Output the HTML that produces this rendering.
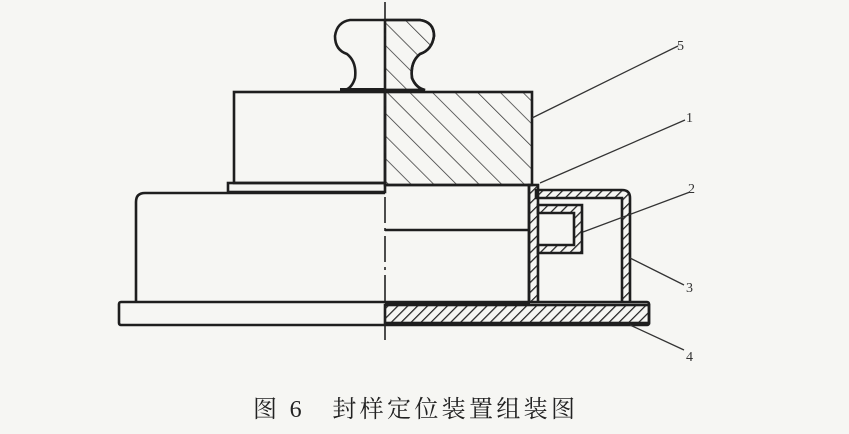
<!DOCTYPE html>
<html><head><meta charset="utf-8"><style>
html,body{margin:0;padding:0;background:#f6f6f3;}
svg{display:block;}
</style></head><body>
<svg width="849" height="434" viewBox="0 0 849 434" xmlns="http://www.w3.org/2000/svg">
<defs>
<pattern id="h" patternUnits="userSpaceOnUse" width="16" height="16" patternTransform="rotate(-45)">
<line x1="0" y1="0" x2="0" y2="16" stroke="#333" stroke-width="1.5"/>
</pattern>
<pattern id="h2" patternUnits="userSpaceOnUse" width="7" height="7" patternTransform="rotate(45)">
<line x1="0" y1="0" x2="0" y2="7" stroke="#222" stroke-width="2.5"/>
</pattern>
</defs>
<rect width="849" height="434" fill="#f6f6f3"/>
<g stroke="#1e1e1e" stroke-width="2.6" fill="none">
<!-- knob -->
<path d="M350 20 L420 20 Q434 22 434 36 Q432 50 420 54 Q410 62 412 78 Q416 88 425 90 L345 90 Q352 88 355 78 Q357 62 347 54 Q335 50 335 36 Q337 22 350 20 Z" fill="#f6f6f3"/>
<path d="M385 20 L420 20 Q434 22 434 36 Q432 50 420 54 Q410 62 412 78 Q416 88 425 90 L385 90 Z" fill="url(#h)"/>
<!-- upper block -->
<rect x="234" y="92" width="151" height="91" fill="#f6f6f3"/>
<rect x="385" y="92" width="147" height="93" fill="url(#h)"/>
<line x1="340" y1="90" x2="385" y2="90" stroke-width="4"/>
<!-- step plate -->
<rect x="228" y="183" width="157" height="9"/>
<!-- middle body -->
<path d="M385 193 L145 193 Q136 193 136 202 L136 303 L385 303"/>
<path d="M385 185 L529 185 L529 303 L385 303"/>
<line x1="385" y1="230" x2="529" y2="230"/>
<!-- right strip (1) -->
<rect x="529" y="185" width="9" height="118" fill="url(#h2)"/>
<!-- lid 3 -->
<path d="M536 190 L622 190 Q630 190 630 198 L630 310 L622 310 L622 198 L536 198 Z" fill="url(#h2)"/>
<!-- piece 2 -->
<path d="M538 205 L582 205 L582 253 L538 253 L538 245 L574 245 L574 213 L538 213 Z" fill="url(#h2)"/>
<!-- base -->
<rect x="119" y="302" width="530" height="23" rx="2" fill="#f6f6f3"/>
<rect x="385" y="305" width="264" height="18" fill="url(#h2)"/>
<line x1="385" y1="304" x2="530" y2="304" stroke-width="4"/>
</g>
<!-- centre line -->
<line x1="385" y1="2" x2="385" y2="345" stroke="#222" stroke-width="1.6" stroke-dasharray="26,5,3,5"/>
<!-- leaders -->
<g stroke="#333" stroke-width="1.3">
<line x1="532" y1="118" x2="678" y2="46"/>
<line x1="540" y1="183" x2="685" y2="120"/>
<line x1="583" y1="232" x2="690" y2="192"/>
<line x1="630" y1="258" x2="684" y2="285"/>
<line x1="630" y1="325" x2="684" y2="350"/>
</g>
<g font-family="Liberation Serif, serif" font-size="14" fill="#333">
<text x="677" y="50">5</text>
<text x="686" y="122">1</text>
<text x="688" y="193">2</text>
<text x="686" y="292">3</text>
<text x="686" y="361">4</text>
</g>
<text x="253" y="417" font-family="Liberation Serif, 'Noto Serif CJK SC', serif" font-size="24" fill="#222" letter-spacing="3" textLength="325" lengthAdjust="spacing">图 6　封样定位装置组装图</text>
</svg>
</body></html>
